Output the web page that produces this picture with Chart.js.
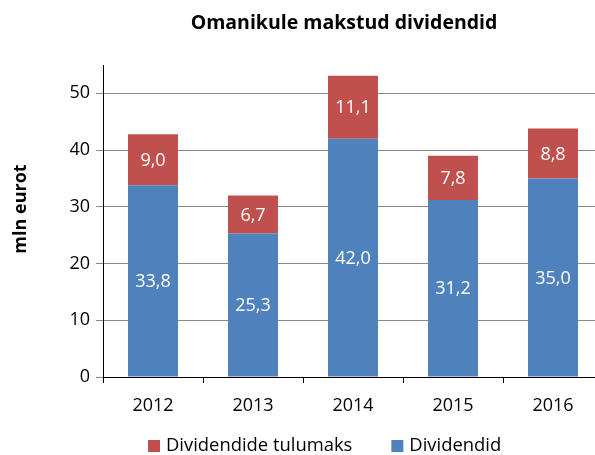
<!DOCTYPE html>
<html>
<head>
<meta charset="utf-8">
<script src="https://cdn.jsdelivr.net/npm/chart.js@4"></script>
<style>
  html, body { margin: 0; padding: 0; background: #fff; overflow: hidden; }
  #wrap { width: 595px; height: 455px; overflow: hidden; position: relative; }
  #box { width: 610px; height: 455px; position: absolute; left: 0; top: 0; }
</style>
</head>
<body>
<div id="wrap"><div id="box"><canvas id="chart"></canvas></div></div>
<script>
var years = ['2012', '2013', '2014', '2015', '2016'];
var dividendid = [33.8, 25.3, 42.0, 31.2, 35.0];
var tulumaks = [9.0, 6.7, 11.1, 7.8, 8.8];
var chartTitle = 'Omanikule makstud dividendid';
var yTitle = 'mln eurot';

var FONT = '"Open Sans", Lato, sans-serif';

function fmt(v) { return v.toFixed(1).replace('.', ','); }

// labels in the bars, title, axis title and the legend (legend order reversed like Excel)
var extras = {
  id: 'extras',
  afterDatasetsDraw: function(chart) {
    var ctx = chart.ctx;
    ctx.save();
    ctx.fillStyle = '#ffffff';
    ctx.font = '18px ' + FONT;
    ctx.textAlign = 'center';
    ctx.textBaseline = 'middle';
    chart.data.datasets.forEach(function(ds, i) {
      chart.getDatasetMeta(i).data.forEach(function(bar, j) {
        ctx.fillText(fmt(ds.data[j]), bar.x, (bar.y + bar.base) / 2 + 1);
      });
    });
    ctx.restore();
  },
  afterDraw: function(chart) {
    var ctx = chart.ctx;
    ctx.save();
    ctx.fillStyle = '#000';
    ctx.textAlign = 'center';
    ctx.textBaseline = 'alphabetic';
    ctx.font = 'bold 19.5px ' + FONT;
    ctx.fillText(chartTitle, 344, 29);

    ctx.save();
    ctx.translate(21, 209);
    ctx.rotate(-Math.PI / 2);
    ctx.textBaseline = 'middle';
    ctx.font = 'bold 18px ' + FONT;
    ctx.fillText(yTitle, 0, 0);
    ctx.restore();

    ctx.font = '18.4px ' + FONT;
    ctx.textAlign = 'left';
    ctx.textBaseline = 'middle';
    var x = 148, y = 446;
    var items = chart.data.datasets.slice().reverse();
    items.forEach(function(ds) {
      ctx.fillStyle = ds.backgroundColor;
      ctx.fillRect(x, y - 6, 12, 12);
      ctx.fillStyle = '#000';
      ctx.fillText(ds.label, x + 18, y);
      x += 18 + ctx.measureText(ds.label).width + 39;
    });
    ctx.restore();
  }
};

new Chart(document.getElementById('chart').getContext('2d'), {
  type: 'bar',
  data: {
    labels: years,
    datasets: [{
      label: 'Dividendid',
      data: dividendid,
      backgroundColor: '#4F81BD',
      categoryPercentage: 1,
      barPercentage: 0.5
    }, {
      label: 'Dividendide tulumaks',
      data: tulumaks,
      backgroundColor: '#C0504D',
      categoryPercentage: 1,
      barPercentage: 0.5
    }]
  },
  options: {
    responsive: true,
    maintainAspectRatio: false,
    animation: false,
    layout: { padding: { top: 65, right: 7, left: 0, bottom: 0 } },
    plugins: {
      legend: { display: false },
      title: { display: false },
      tooltip: { enabled: false }
    },
    scales: {
      x: {
        stacked: true,
        afterFit: function(s) { s.height = 78; },
        grid: { drawOnChartArea: false, tickLength: 6, color: '#000' },
        border: { color: '#000' },
        ticks: { color: '#000', padding: 12, font: { family: FONT, size: 18 } }
      },
      y: {
        stacked: true,
        min: 0,
        max: 55,
        afterFit: function(s) { s.width = 103; },
        grid: { color: '#8a8a8a', tickLength: 7 },
        border: { color: '#000' },
        ticks: { stepSize: 10, includeBounds: false, color: '#000', padding: 6, font: { family: FONT, size: 18 } }
      }
    }
  },
  plugins: [extras]
});
</script>
</body>
</html>
